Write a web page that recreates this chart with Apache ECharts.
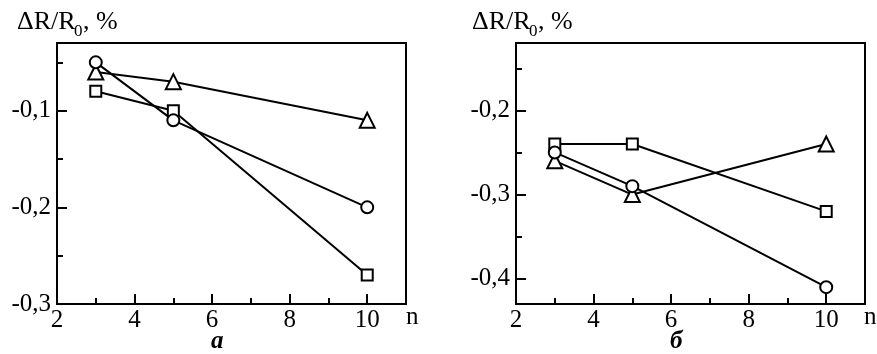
<!DOCTYPE html>
<html>
<head>
<meta charset="utf-8">
<script src="https://cdn.jsdelivr.net/npm/echarts@6/dist/echarts.min.js"></script>
<style>
  html, body { margin: 0; padding: 0; background: #fff; }
  #chart { width: 877px; height: 354px; }
</style>
</head>
<body>
<div id="chart"></div>
<script>
// n values (x axis)
var nValues = [3, 5, 10];

// panel a
var aCircle = [-0.05, -0.11, -0.20];
var aTriangle = [-0.06, -0.07, -0.11];
var aSquare = [-0.08, -0.10, -0.27];

// panel б
var bCircle = [-0.25, -0.29, -0.41];
var bTriangle = [-0.26, -0.30, -0.24];
var bSquare = [-0.24, -0.24, -0.32];

var xTicks = [2, 4, 6, 8, 10];
var xMinorTicks = [3, 5, 7, 9];
var aYTicks = [-0.3, -0.2, -0.1];
var aYMinor = [-0.25, -0.15, -0.05];
var bYTicks = [-0.4, -0.3, -0.2];
var bYMinor = [-0.35, -0.25, -0.15];

var FONT = 'Liberation Serif';

function pts(ys) {
  return nValues.map(function (n, i) { return [n, ys[i]]; });
}

function commaFmt(v) {
  return (Math.round(v * 10) / 10).toFixed(1).replace('.', ',');
}

function xAxes(gi) {
  return [{
    type: 'value', gridIndex: gi, min: 2, max: 11, position: 'bottom',
    axisLine: { show: true, lineStyle: { color: '#000', width: 2 } },
    axisTick: { show: true, inside: true, length: 10, lineStyle: { color: '#000', width: 2 }, customValues: xTicks },
    axisLabel: { customValues: xTicks, color: '#000', fontFamily: FONT, fontSize: 25, margin: 4 },
    splitLine: { show: false }
  }, {
    type: 'value', gridIndex: gi, min: 2, max: 11, position: 'bottom',
    axisLine: { show: false },
    axisTick: { show: true, inside: true, length: 6, lineStyle: { color: '#000', width: 2 }, customValues: xMinorTicks },
    axisLabel: { show: false },
    splitLine: { show: false }
  }];
}

function yAxes(gi, min, max, ticks, minor) {
  return [{
    type: 'value', gridIndex: gi, min: min, max: max, position: 'left',
    axisLine: { show: true, lineStyle: { color: '#000', width: 2 } },
    axisTick: { show: true, inside: true, length: 10, lineStyle: { color: '#000', width: 2 }, customValues: ticks },
    axisLabel: { customValues: ticks, formatter: commaFmt, color: '#000', fontFamily: FONT, fontSize: 25, margin: 6 },
    splitLine: { show: false }
  }, {
    type: 'value', gridIndex: gi, min: min, max: max, position: 'left',
    axisLine: { show: false },
    axisTick: { show: true, inside: true, length: 6, lineStyle: { color: '#000', width: 2 }, customValues: minor },
    axisLabel: { show: false },
    splitLine: { show: false }
  }];
}

function line(gi, ys, symbol, size) {
  return {
    type: 'line', xAxisIndex: gi * 2, yAxisIndex: gi * 2,
    data: pts(ys), symbol: symbol, symbolSize: size, showSymbol: true,
    lineStyle: { color: '#000', width: 2 },
    itemStyle: { color: '#fff', borderColor: '#000', borderWidth: 2 },
    z: 3, animation: false
  };
}

// y-axis caption, drawn as three text pieces so the subscript sits low
function caption(x) {
  return [
    { type: 'text', left: x, top: 9, style: { text: 'ΔR/R', fontFamily: FONT, fontSize: 26, fill: '#000' } },
    { type: 'text', left: x + 57, top: 23, style: { text: '0', fontFamily: FONT, fontSize: 17, fill: '#000' } },
    { type: 'text', left: x + 66, top: 9, style: { text: ', %', fontFamily: FONT, fontSize: 26, fill: '#000' } }
  ];
}

var chart = echarts.init(document.getElementById('chart'), null, { renderer: 'canvas' });

chart.setOption({
  backgroundColor: '#fff',
  animation: false,
  grid: [
    { left: 57, top: 43, width: 349, height: 261, show: true, borderColor: '#000', borderWidth: 2 },
    { left: 516, top: 43, width: 349, height: 261, show: true, borderColor: '#000', borderWidth: 2 }
  ],
  xAxis: xAxes(0).concat(xAxes(1)),
  yAxis: yAxes(0, -0.3, -0.03, aYTicks, aYMinor).concat(yAxes(1, -0.43, -0.12, bYTicks, bYMinor)),
  series: [
    line(0, aSquare, 'rect', 11),
    line(0, aTriangle, 'triangle', 15),
    line(0, aCircle, 'circle', 12),
    line(1, bSquare, 'rect', 11),
    line(1, bTriangle, 'triangle', 15),
    line(1, bCircle, 'circle', 12)
  ],
  graphic: caption(17).concat(caption(472)).concat([
    { type: 'text', left: 406, top: 305, style: { text: 'n', fontFamily: FONT, fontSize: 25, fill: '#000' } },
    { type: 'text', left: 864, top: 305, style: { text: 'n', fontFamily: FONT, fontSize: 25, fill: '#000' } },
    { type: 'text', left: 211, top: 329, style: { text: 'a', fontFamily: FONT, fontSize: 25, fontStyle: 'italic', fontWeight: 'bold', fill: '#000' } },
    { type: 'text', left: 670, top: 329, style: { text: 'б', fontFamily: FONT, fontSize: 25, fontStyle: 'italic', fontWeight: 'bold', fill: '#000' } }
  ])
});
</script>
</body>
</html>
